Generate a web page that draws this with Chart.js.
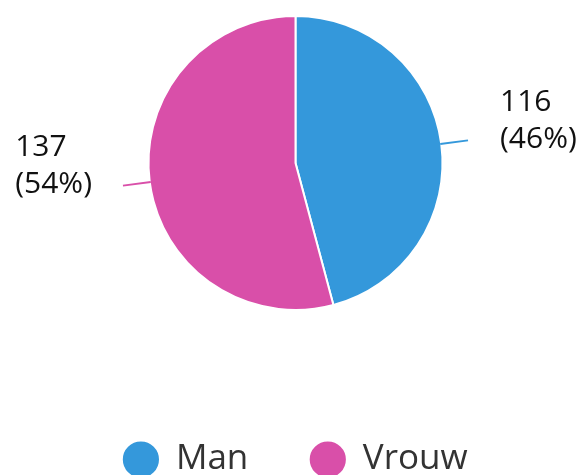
<!DOCTYPE html>
<html lang="nl">
<head>
    <meta charset="UTF-8">
    <title>Man / Vrouw</title>
    <script src="https://cdn.jsdelivr.net/npm/chart.js"></script>
    <style>
        html, body {
            margin: 0;
            padding: 0;
            background: #fff;
            overflow: hidden;
        }
        .frame {
            position: relative;
            width: 579px;
            height: 475px;
            overflow: hidden;
        }
        .frame canvas {
            position: absolute;
            left: 0;
            top: -54px;
        }
    </style>
</head>
<body>
    <div class="frame">
        <canvas id="pieChart" width="579" height="541"></canvas>
    </div>

    <script>
        const labels = ['Man', 'Vrouw'];
        const counts = [116, 137];
        const colors = ['#3498db', '#d94fa9'];

        const total = counts.reduce((a, b) => a + b, 0);

        // labels outside the pie with a short leader line
        const outsideLabels = {
            id: 'outsideLabels',
            afterDraw(chart) {
                const ctx = chart.ctx;
                const meta = chart.getDatasetMeta(0);
                ctx.save();
                ctx.font = '30px "Open Sans"';
                ctx.textBaseline = 'middle';
                ctx.textAlign = 'left';
                meta.data.forEach((arc, i) => {
                    const mid = (arc.startAngle + arc.endAngle) / 2;
                    const r = arc.outerRadius;
                    const x0 = arc.x + Math.cos(mid) * (r - 1);
                    const y0 = arc.y + Math.sin(mid) * (r - 1);
                    const x1 = arc.x + Math.cos(mid) * (r + 27);
                    const y1 = arc.y + Math.sin(mid) * (r + 27);

                    ctx.strokeStyle = colors[i];
                    ctx.lineWidth = 2;
                    ctx.beginPath();
                    ctx.moveTo(x0, y0);
                    ctx.lineTo(x1, y1);
                    ctx.stroke();

                    const lines = [String(counts[i]), '(' + Math.round(counts[i] / total * 100) + '%)'];
                    const w = Math.max(...lines.map(t => ctx.measureText(t).width));
                    const right = Math.cos(mid) >= 0;
                    const tx = right ? x1 + 32 : x1 - 31 - w;
                    ctx.fillStyle = '#111';
                    ctx.fillText(lines[0], tx, y1 - 38);
                    ctx.fillText(lines[1], tx, y1 - 1);
                });
                ctx.restore();
            }
        };

        const ctx = document.getElementById('pieChart').getContext('2d');
        const pieChart = new Chart(ctx, {
            type: 'pie',
            data: {
                labels: labels,
                datasets: [{
                    data: counts,
                    backgroundColor: colors,
                    borderColor: '#fff',
                    borderWidth: 2,
                    radius: 147
                }]
            },
            options: {
                responsive: false,
                animation: false,
                layout: {
                    padding: { left: 12, right: 0, top: 0, bottom: 0 }
                },
                plugins: {
                    tooltip: { enabled: false },
                    legend: {
                        position: 'bottom',
                        labels: {
                            usePointStyle: true,
                            pointStyle: 'circle',
                            boxWidth: 36,
                            boxHeight: 27,
                            padding: 62,
                            color: '#333',
                            font: { family: 'Open Sans', size: 35 }
                        }
                    }
                }
            },
            plugins: [outsideLabels]
        });
    </script>
</body>
</html>
